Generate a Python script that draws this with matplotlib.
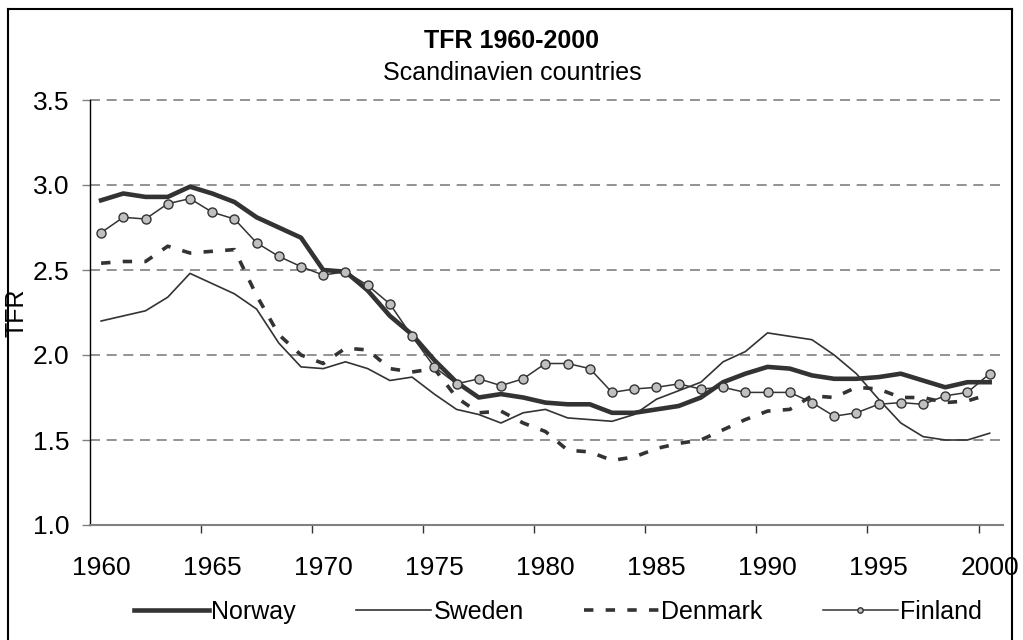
import matplotlib
matplotlib.use('Agg')
import matplotlib.pyplot as plt
from matplotlib.lines import Line2D
from matplotlib.ticker import FixedLocator, FormatStrFormatter

years = list(range(1960, 2001))

norway = [2.91, 2.95, 2.93, 2.93, 2.99, 2.95, 2.90, 2.81, 2.75, 2.69,
          2.50, 2.49, 2.38, 2.23, 2.12, 1.97, 1.84, 1.75, 1.77, 1.75,
          1.72, 1.71, 1.71, 1.66, 1.66, 1.68, 1.70, 1.75, 1.84, 1.89,
          1.93, 1.92, 1.88, 1.86, 1.86, 1.87, 1.89, 1.85, 1.81, 1.84, 1.84]
sweden = [2.20, 2.23, 2.26, 2.34, 2.48, 2.42, 2.36, 2.27, 2.07, 1.93,
          1.92, 1.96, 1.92, 1.85, 1.87, 1.77, 1.68, 1.65, 1.60, 1.66,
          1.68, 1.63, 1.62, 1.61, 1.65, 1.74, 1.79, 1.84, 1.96, 2.02,
          2.13, 2.11, 2.09, 2.00, 1.89, 1.74, 1.60, 1.52, 1.50, 1.50, 1.54]
denmark = [2.54, 2.55, 2.55, 2.64, 2.60, 2.61, 2.62, 2.35, 2.12, 2.00,
           1.95, 2.04, 2.03, 1.92, 1.90, 1.92, 1.75, 1.66, 1.67, 1.60,
           1.55, 1.44, 1.43, 1.38, 1.40, 1.45, 1.48, 1.50, 1.56, 1.62,
           1.67, 1.68, 1.76, 1.75, 1.81, 1.80, 1.75, 1.75, 1.72, 1.73, 1.77]
finland = [2.72, 2.81, 2.80, 2.89, 2.92, 2.84, 2.80, 2.66, 2.58, 2.52,
           2.47, 2.49, 2.41, 2.30, 2.11, 1.93, 1.83, 1.86, 1.82, 1.86,
           1.95, 1.95, 1.92, 1.78, 1.80, 1.81, 1.83, 1.80, 1.81, 1.78,
           1.78, 1.78, 1.72, 1.64, 1.66, 1.71, 1.72, 1.71, 1.76, 1.78, 1.89]

xticks = list(range(1960, 2001, 5))
yticks = [1.0, 1.5, 2.0, 2.5, 3.0, 3.5]

plt.rcParams['font.family'] = ['Liberation Sans', 'DejaVu Sans']

W, H = 1023, 640
fig = plt.figure(figsize=(W / 100, H / 100), dpi=100)
ax = fig.add_axes([90 / W, 1 - 525 / H, (1003 - 90) / W, (525 - 100) / H])

c = '#333333'
ax.plot(years, norway, color=c, lw=3.3, label='Norway', zorder=3)
ax.plot(years, sweden, color=c, lw=1.2, label='Sweden', zorder=3)
ax.plot(years, denmark, color=c, lw=2.6, linestyle=(0, (2.6, 3.4)),
        label='Denmark', zorder=3)
ax.plot(years, finland, color=c, lw=1.1, marker='o', ms=6.5,
        mfc='#c0c0c0', mec=c, mew=1.0, label='Finland', zorder=4)

ax.set_xlim(1959.5, 2000.6)
ax.set_ylim(1.0, 3.5)

# grid
for v in yticks[1:]:
    ax.axhline(v, color='#808080', lw=1.2, linestyle=(0, (6, 4)), zorder=1,
               clip_on=False)

ax.spines['top'].set_visible(False)
ax.spines['right'].set_visible(False)
ax.spines['left'].set_color('black')
ax.spines['left'].set_linewidth(1.0)
ax.spines['bottom'].set_color('#808080')
ax.spines['bottom'].set_linewidth(1.5)

ax.set_yticks(yticks)
ax.yaxis.set_major_formatter(FormatStrFormatter('%.1f'))
ax.tick_params(axis='y', direction='out', length=6, width=1, color='#808080',
               pad=9, labelsize=19)

ax.set_xticks(xticks)
ax.xaxis.set_minor_locator(FixedLocator([y - 0.5 for y in xticks[1:]]))
ax.tick_params(axis='x', which='major', length=0, pad=22, labelsize=19)
ax.tick_params(axis='x', which='minor', direction='out', length=6, width=1,
               color='#333333')

ax.set_ylabel('TFR', fontsize=18)
ax.yaxis.set_label_coords((28 - 90) / 913, 0.5)

fig.text(512 / W, 1 - 41 / H, 'TFR 1960-2000', ha='center', va='center',
         fontsize=18, fontweight='bold')
fig.text(512 / W, 1 - 73 / H, 'Scandinavien countries', ha='center',
         va='center', fontsize=18)

handles, labels = ax.get_legend_handles_labels()
fig.legend(handles, labels, loc='center', bbox_to_anchor=(558 / W, 1 - 612 / H),
           ncol=4, frameon=False, fontsize=18, handlelength=3.0,
           handletextpad=0.1, columnspacing=2.4, markerscale=0.6)

# chart border
fig.add_artist(Line2D([8 / W, 8 / W], [0, 1 - 9 / H], color='black', lw=1.5,
                      transform=fig.transFigure))
fig.add_artist(Line2D([8 / W, 1012 / W], [1 - 9 / H, 1 - 9 / H], color='black',
                      lw=1.5, transform=fig.transFigure))
fig.add_artist(Line2D([1012 / W, 1012 / W], [0, 1 - 9 / H], color='black',
                      lw=1.5, transform=fig.transFigure))

fig.savefig('out.png', dpi=100)
